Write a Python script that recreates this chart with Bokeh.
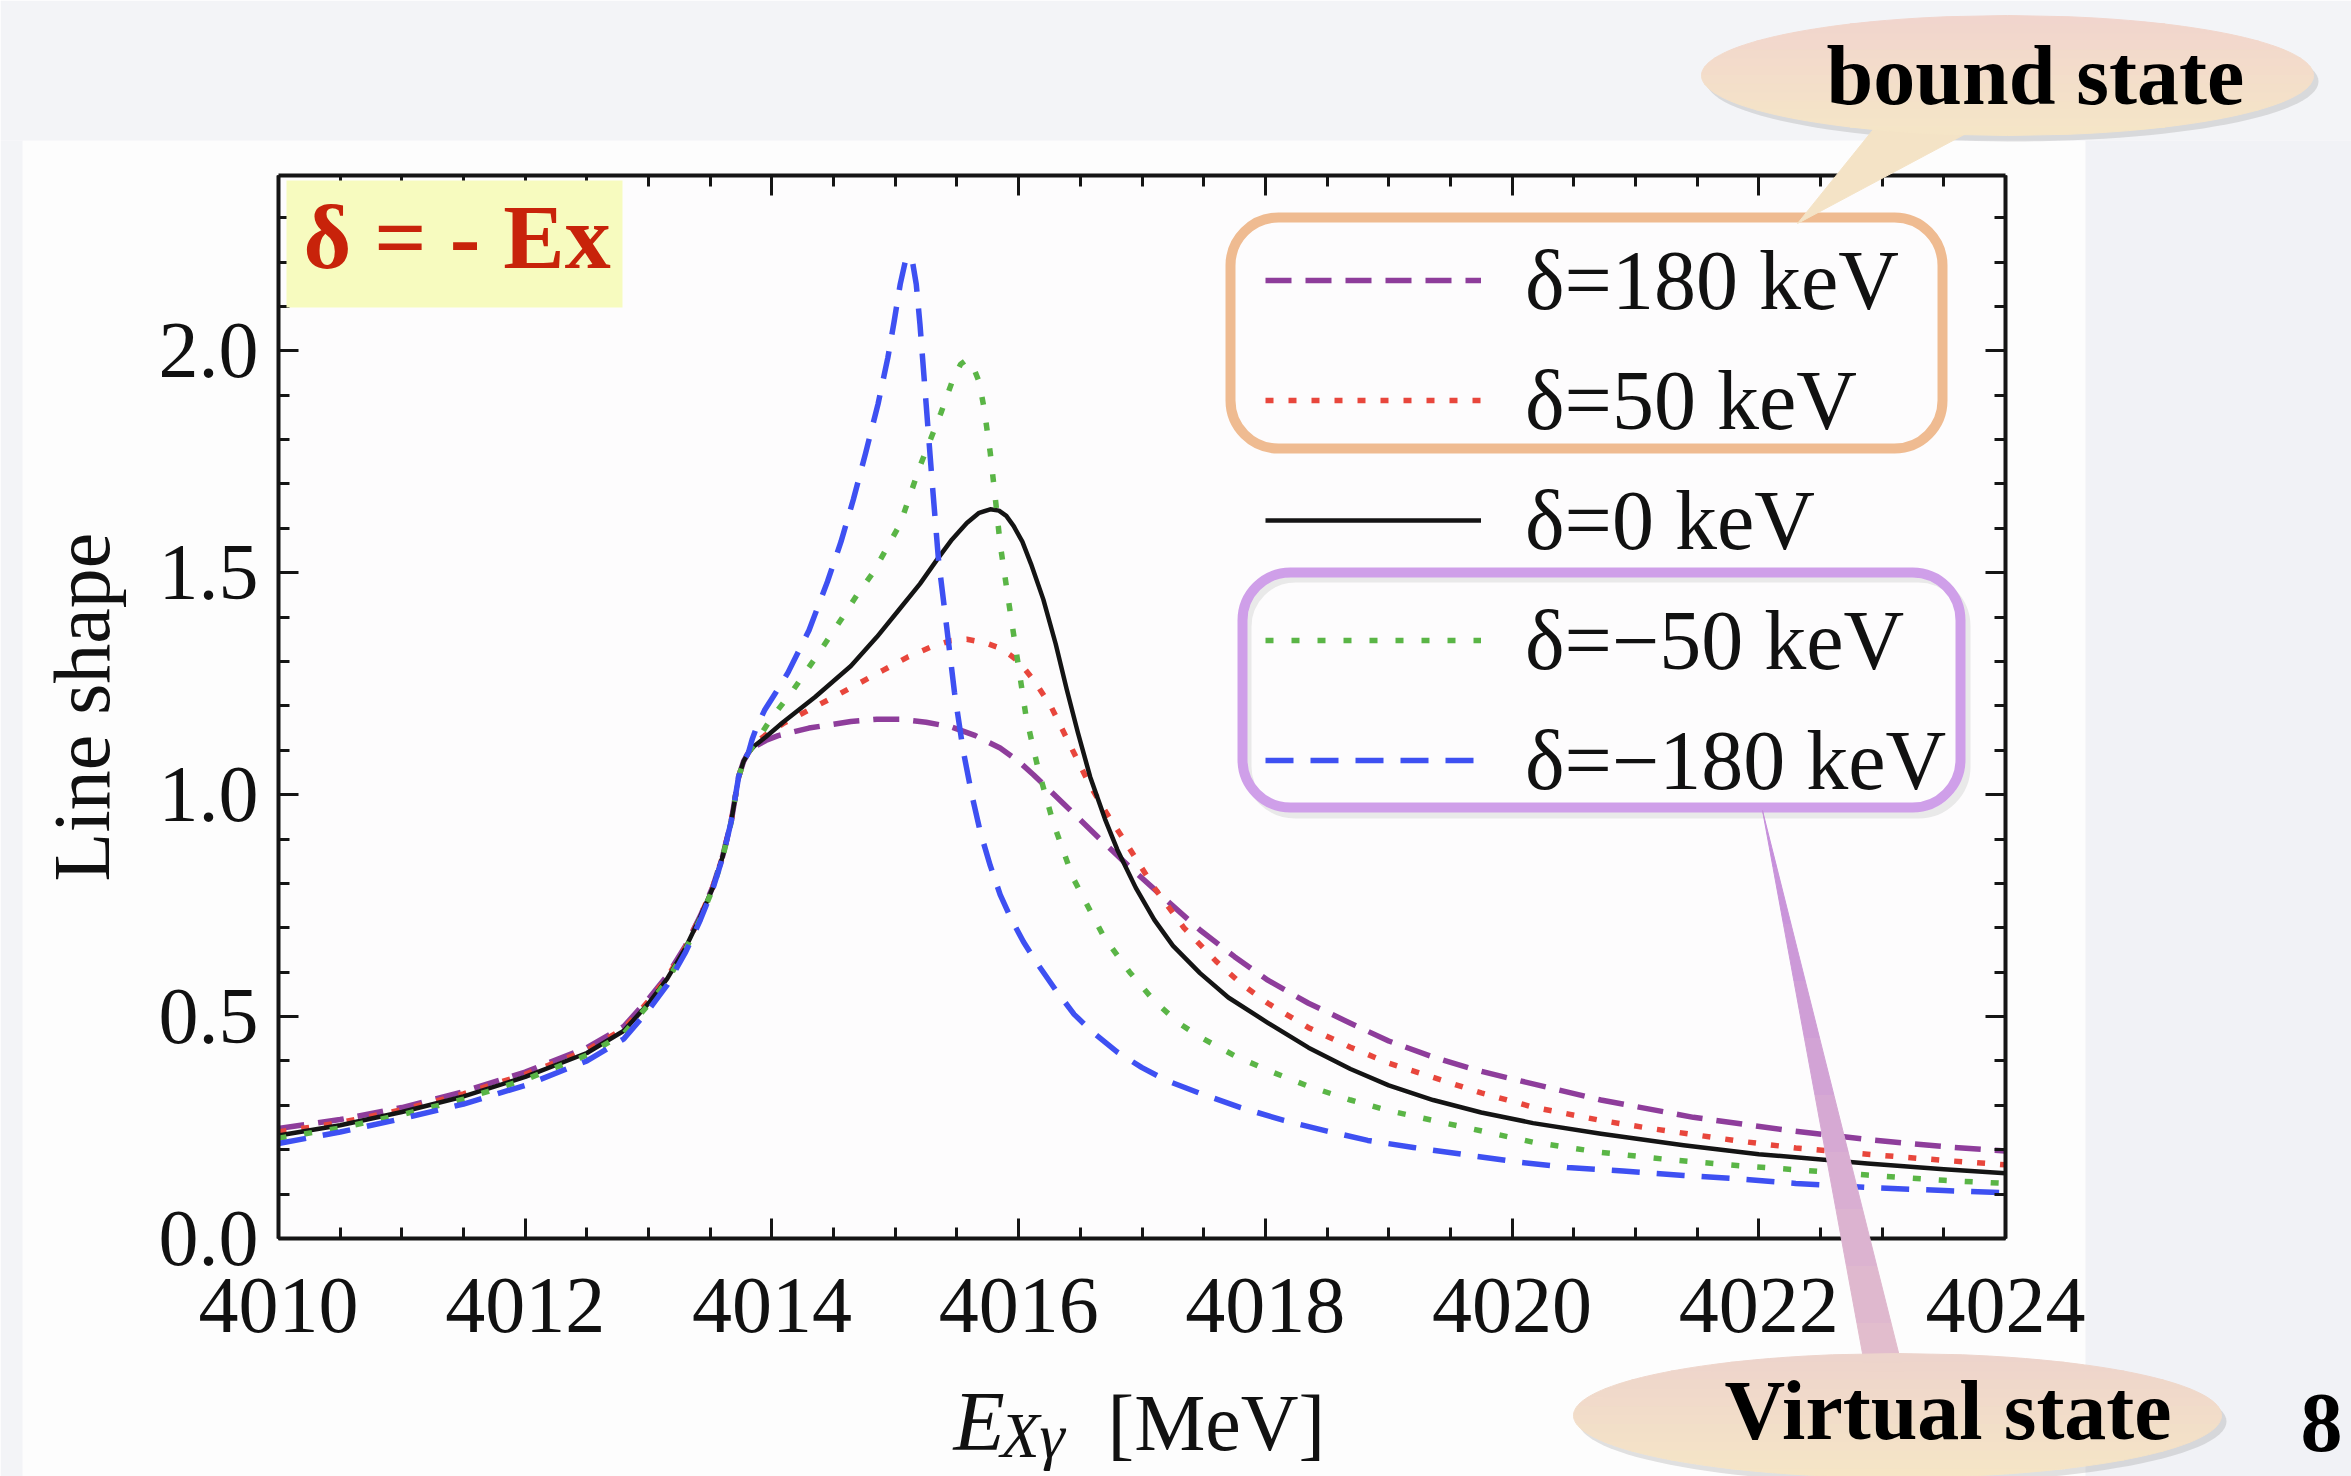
import numpy as np
from bokeh.plotting import figure
from bokeh.models import (Range1d, LinearAxis, SingleIntervalTicker, NumeralTickFormatter,
                          Legend, LegendItem, BoxAnnotation, PolyAnnotation, Label)
from bokeh.embed import file_html
from bokeh.resources import INLINE

# ---------------- data ----------------
pre_E = [4010.0, 4010.5, 4011.0, 4011.5, 4012.0, 4012.5, 4012.8, 4013.0, 4013.15, 4013.3,
         4013.42, 4013.52, 4013.6, 4013.67, 4013.73, 4013.77, 4013.81]

E_p180 = pre_E + [4013.86, 4013.95, 4014.05, 4014.3, 4014.64, 4014.85, 4015.04, 4015.25,
                  4015.45, 4015.65, 4015.85, 4016.0, 4016.12, 4016.4, 4016.64, 4016.9,
                  4017.2, 4017.47, 4017.75, 4018.02, 4018.35, 4018.69, 4019.0, 4019.36,
                  4019.7, 4020.04, 4020.72, 4021.47, 4022.2, 4022.88, 4023.5, 4024.0]
L_p180 = [0.248, 0.268, 0.295, 0.331, 0.375, 0.430, 0.478, 0.540, 0.592, 0.660, 0.727,
          0.792, 0.861, 0.940, 1.040, 1.075, 1.095,
          1.108, 1.122, 1.133, 1.150, 1.165, 1.170, 1.170, 1.163, 1.153, 1.133, 1.105,
          1.075, 1.045, 0.970, 0.905, 0.837, 0.762, 0.695, 0.635, 0.582, 0.530, 0.485,
          0.445, 0.409, 0.380, 0.357, 0.312, 0.273, 0.245, 0.223, 0.207, 0.197]

E_p50 = pre_E + [4013.86, 4013.95, 4014.09, 4014.5, 4014.9, 4015.1, 4015.31, 4015.45,
                 4015.58, 4015.72, 4015.85, 4015.93, 4016.0, 4016.13, 4016.26, 4016.42,
                 4016.58, 4016.72, 4016.85, 4017.1, 4017.34, 4017.6, 4017.8, 4018.02,
                 4018.35, 4018.69, 4019.0, 4019.36, 4019.75, 4020.17, 4020.72, 4021.12,
                 4021.8, 4022.3, 4022.88, 4023.5, 4024.0]
L_p50 = [0.240, 0.261, 0.290, 0.326, 0.370, 0.424, 0.473, 0.535, 0.588, 0.657, 0.726,
         0.791, 0.860, 0.940, 1.040, 1.075, 1.095,
         1.115, 1.135, 1.160, 1.220, 1.280, 1.310, 1.335, 1.347, 1.350, 1.343, 1.330,
         1.315, 1.300, 1.255, 1.200, 1.110, 1.020, 0.955, 0.900, 0.790, 0.700, 0.625,
         0.575, 0.530, 0.475, 0.431, 0.395, 0.363, 0.328, 0.296, 0.266, 0.248, 0.221,
         0.204, 0.190, 0.176, 0.166]

E_0 = pre_E + [4013.86, 4013.95, 4014.09, 4014.35, 4014.64, 4014.85, 4015.04, 4015.2,
               4015.34, 4015.46, 4015.58, 4015.68, 4015.77, 4015.84, 4015.9, 4015.96,
               4016.03, 4016.1, 4016.2, 4016.3, 4016.39, 4016.48, 4016.58, 4016.7, 4016.8,
               4016.95, 4017.1, 4017.25, 4017.47, 4017.7, 4018.02, 4018.35, 4018.69,
               4019.0, 4019.36, 4019.75, 4020.17, 4020.72, 4021.39, 4022.0, 4022.88,
               4023.5, 4024.0]
L_0 = [0.232, 0.255, 0.285, 0.320, 0.364, 0.418, 0.468, 0.530, 0.585, 0.655, 0.725,
       0.790, 0.860, 0.940, 1.040, 1.075, 1.095,
       1.110, 1.130, 1.163, 1.220, 1.290, 1.355, 1.420, 1.475, 1.530, 1.575, 1.612,
       1.635, 1.643, 1.640, 1.628, 1.605, 1.570, 1.520, 1.440, 1.340, 1.237, 1.140,
       1.040, 0.945, 0.876, 0.790, 0.718, 0.660, 0.598, 0.543, 0.486, 0.430, 0.382,
       0.345, 0.312, 0.284, 0.260, 0.236, 0.210, 0.190, 0.169, 0.156, 0.147]

E_m50 = pre_E + [4013.86, 4013.92, 4013.99, 4014.17, 4014.37, 4014.55, 4014.69, 4014.82,
                 4014.95, 4015.04, 4015.2, 4015.37, 4015.46, 4015.53, 4015.58, 4015.63,
                 4015.68, 4015.72, 4015.77, 4015.81, 4015.85, 4015.92, 4015.99, 4016.06,
                 4016.16, 4016.28, 4016.44, 4016.69, 4016.9, 4017.1, 4017.3, 4017.47,
                 4017.75, 4018.02, 4018.35, 4018.69, 4019.0, 4019.36, 4020.17, 4020.72,
                 4021.26, 4021.8, 4022.88, 4023.5, 4024.0]
L_m50 = [0.226, 0.249, 0.279, 0.314, 0.358, 0.413, 0.462, 0.527, 0.581, 0.651, 0.721,
         0.787, 0.858, 0.939, 1.040, 1.075, 1.095,
         1.115, 1.140, 1.170, 1.235, 1.315, 1.390, 1.450, 1.500, 1.565, 1.610, 1.740,
         1.860, 1.930, 1.970, 1.980, 1.965, 1.930, 1.870, 1.770, 1.670, 1.565, 1.433,
         1.305, 1.176, 1.056, 0.937, 0.813, 0.680, 0.600, 0.535, 0.485, 0.454, 0.412,
         0.379, 0.343, 0.312, 0.288, 0.266, 0.217, 0.194, 0.178, 0.165, 0.143, 0.131,
         0.124]

E_m180 = pre_E + [4013.84, 4013.88, 4013.94, 4014.02, 4014.13, 4014.3, 4014.45, 4014.56,
                  4014.66, 4014.76, 4014.86, 4014.94, 4014.99, 4015.04, 4015.08, 4015.11,
                  4015.14, 4015.17, 4015.2, 4015.25, 4015.3, 4015.35, 4015.42, 4015.48,
                  4015.55, 4015.62, 4015.69, 4015.77, 4015.85, 4015.94, 4016.04, 4016.15,
                  4016.3, 4016.45, 4016.6, 4016.8, 4017.0, 4017.2, 4017.47, 4017.8,
                  4018.15, 4018.5, 4018.83, 4019.2, 4019.64, 4020.05, 4020.45, 4020.9,
                  4021.39, 4021.8, 4022.3, 4022.88, 4023.5, 4024.0]
L_m180 = [0.214, 0.240, 0.270, 0.303, 0.345, 0.400, 0.450, 0.515, 0.571, 0.645, 0.718,
          0.787, 0.858, 0.940, 1.040, 1.075, 1.095,
          1.125, 1.155, 1.190, 1.225, 1.275, 1.370, 1.480, 1.570, 1.665, 1.770, 1.880,
          1.985, 2.065, 2.150, 2.200, 2.214, 2.200, 2.150, 2.060, 1.880, 1.700, 1.530,
          1.370, 1.230, 1.100, 1.000, 0.915, 0.840, 0.775, 0.720, 0.668, 0.620, 0.560,
          0.505, 0.465, 0.420, 0.385, 0.356, 0.327, 0.295, 0.266, 0.242, 0.221, 0.205,
          0.188, 0.172, 0.160, 0.152, 0.142, 0.135, 0.124, 0.115, 0.108, 0.103]

labels = ["δ=180 keV", "δ=50 keV", "δ=0 keV", "δ=−50 keV", "δ=−180 keV"]

# ---------------- layout geometry (pixels) ----------------
W, H = 2351, 1476
FL, FR, FT, FB = 278, 2005, 175, 1238
X0, X1 = 4010.0, 4024.0
Y0, Y1 = 0.0, 2.395
SERIF = "Liberation Serif"
BASE_K = 0.39   # empirical shift from label anchor to the alphabetic baseline

# ================= main chart =================
p = figure(width=W, height=H, x_range=Range1d(X0, X1), y_range=Range1d(Y0, Y1),
           output_backend="svg", toolbar_location=None,
           min_border_left=FL, min_border_right=W - FR,
           min_border_top=FT, min_border_bottom=H - FB,
           x_axis_type=None, y_axis_type=None)
p.border_fill_color = "#fdfdfd"
p.background_fill_color = "#fdfcfd"
p.outline_line_color = None


def style_axis(ax, show_labels):
    ax.axis_line_width = 4
    ax.axis_line_color = "#151515"
    ax.major_tick_in = 20
    ax.major_tick_out = 0
    ax.minor_tick_in = 11
    ax.minor_tick_out = 0
    ax.major_tick_line_width = 3
    ax.minor_tick_line_width = 3
    ax.major_tick_line_color = "#151515"
    ax.minor_tick_line_color = "#151515"
    if show_labels:
        ax.major_label_text_font = SERIF
        ax.major_label_text_font_size = "80px"
        ax.major_label_text_color = "#111111"
    else:
        ax.major_label_text_font_size = "0px"
        ax.major_label_text_alpha = 0


xb = LinearAxis(ticker=SingleIntervalTicker(interval=2, num_minor_ticks=4),
                formatter=NumeralTickFormatter(format="0"))
style_axis(xb, True)
xb.major_label_standoff = 40
p.add_layout(xb, "below")

xt = LinearAxis(ticker=SingleIntervalTicker(interval=2, num_minor_ticks=4))
style_axis(xt, False)
p.add_layout(xt, "above")

yl = LinearAxis(ticker=SingleIntervalTicker(interval=0.5, num_minor_ticks=5),
                formatter=NumeralTickFormatter(format="0.0"),
                axis_label="Line shape")
style_axis(yl, True)
yl.major_label_standoff = 20
yl.axis_label_text_font = SERIF
yl.axis_label_text_font_size = "80px"
yl.axis_label_text_font_style = "normal"
yl.axis_label_text_color = "#111111"
yl.axis_label_standoff = 30
p.add_layout(yl, "left")

yr = LinearAxis(ticker=SingleIntervalTicker(interval=0.5, num_minor_ticks=5))
style_axis(yr, False)
p.add_layout(yr, "right")

kw = dict(line_width=5.5, line_join="round", line_cap="butt")
r1 = p.line(E_p180, L_p180, line_color="#8e3d9b", line_dash="26 14", **kw)
r2 = p.line(E_p50, L_p50, line_color="#e8463c", line_dash="8 15", **kw)
r3 = p.line(E_0, L_0, line_color="#141414", line_width=4.5, line_join="round")
r4 = p.line(E_m50, L_m50, line_color="#5ab546", line_dash="8 18", **kw)
r5 = p.line(E_m180, L_m180, line_color="#3e50f2", line_dash="28 17", **kw)

legend = Legend(items=[LegendItem(label=t, renderers=[r]) for t, r in
                       zip(labels, [r1, r2, r3, r4, r5])],
                location=(1265 - FL, FB - 810),
                background_fill_alpha=0, border_line_alpha=0,
                label_text_font=SERIF, label_text_font_size="84px",
                label_text_color="#111111",
                glyph_width=216, glyph_height=100, label_height=100,
                spacing=20, padding=0, margin=0, label_standoff=44)
p.add_layout(legend)

# ================= overlay (pixel space, y downward), stacked on top =================
o = figure(width=W, height=H, x_range=Range1d(0, W), y_range=Range1d(H, 0),
           output_backend="svg", toolbar_location=None, title=None,
           min_border=0, min_border_left=0, min_border_right=0,
           min_border_top=0, min_border_bottom=0,
           x_axis_type=None, y_axis_type=None)
o.border_fill_alpha = 0
o.background_fill_alpha = 0
o.outline_line_color = None
o.styles = {"position": "fixed", "left": "0px", "top": "0px", "z-index": "5"}


def box(l, r, t, b, fill=None, line=None, lw=0, radius=0, alpha=1.0):
    o.add_layout(BoxAnnotation(left=l, right=r, top=t, bottom=b,
                               fill_color=fill if fill else "#ffffff",
                               fill_alpha=alpha if fill else 0.0,
                               line_color=line if line else "#000000",
                               line_alpha=alpha if line else 0.0,
                               line_width=lw, border_radius=radius))


def poly(xs, ys, col, alpha=1.0):
    o.add_layout(PolyAnnotation(xs=list(xs), ys=list(ys), fill_color=col, fill_alpha=alpha,
                                line_color=col, line_alpha=alpha, line_width=1))


def text(px, base_py, s, size, style="normal", color="#111111"):
    o.add_layout(Label(x=px, y=base_py - BASE_K * size, text=s, text_font=SERIF,
                       text_font_size="%dpx" % size, text_font_style=style,
                       text_color=color, text_baseline="alphabetic", text_align="left"))


def hexmix(c1, c2, t):
    a = [int(c1[i:i + 2], 16) for i in (1, 3, 5)]
    b = [int(c2[i:i + 2], 16) for i in (1, 3, 5)]
    return "#%02x%02x%02x" % tuple(int(round(a[k] + (b[k] - a[k]) * t)) for k in range(3))


def ellipse_bands(cx, cy, rx, ry, c_top, c_bot, n=14):
    edges = np.linspace(cy - ry, cy + ry, n + 1)
    for i in range(n):
        ys = np.linspace(edges[i], edges[i + 1], 8)
        hw = rx * np.sqrt(np.clip(1 - ((ys - cy) / ry) ** 2, 0, 1))
        poly(list(cx + hw) + list((cx - hw)[::-1]), list(ys) + list(ys[::-1]),
             hexmix(c_top, c_bot, (i + 0.5) / n))


def ellipse_shadow(cx, cy, rx, ry):
    t = np.linspace(0, 2 * np.pi, 120)
    o.add_layout(PolyAnnotation(xs=list(cx + 5 + rx * np.cos(t)), ys=list(cy + 6 + ry * np.sin(t)),
                                fill_color="#707070", fill_alpha=0.2, line_color=None))


# slide background outside the white panel
box(0, W, 0, 140, fill="#f3f4f7")
box(0, 22, 140, H, fill="#f3f4f7")
box(2085, W, 140, H, fill="#f1f2f6")

# group boxes around the legend entries
box(1230, 1942, 217, 448, line="#efbb91", lw=10, radius=48)
box(1247, 1966, 578, 814, line="#b0b0b0", lw=8, radius=48, alpha=0.25)
box(1242, 1960, 572, 807, line="#cf9fe9", lw=10, radius=48)

# yellow tag
box(286, 622, 180, 307, fill="#f7fbbf")
text(303, 272, "δ = - Ex", 92, "bold", "#c8230a")

# bound state callout
ellipse_shadow(2007, 75, 306, 60)
poly([1880, 1990, 1797], [120, 120, 223], "#f4e3c6")
ellipse_bands(2007, 75, 306, 60, "#f1d4cd", "#f5e6c7")
text(1826, 108, "bound state", 84, "bold", "#000000")

# virtual state callout (gradient wedge)
tip_x, tip_y = 1762, 810
bl, br, by = 1867, 1905, 1380
nb = 10
for i in range(nb):
    t0, t1 = i / nb, (i + 1) / nb
    y0, y1 = tip_y + (by - tip_y) * t0, tip_y + (by - tip_y) * t1
    l0, l1 = tip_x + (bl - tip_x) * t0, tip_x + (bl - tip_x) * t1
    q0, q1 = tip_x + (br - tip_x) * t0, tip_x + (br - tip_x) * t1
    poly([l0, q0, q1, l1], [y0, y0, y1, y1], hexmix("#c48cdc", "#e4c0cc", (i + 0.5) / nb))
ellipse_shadow(1897, 1415, 324, 62)
ellipse_bands(1897, 1415, 324, 62, "#edd3cc", "#f6e6c6")
text(1724, 1443, "Virtual state", 84, "bold", "#000000")

# x-axis title  E_{Xγ} [MeV]
text(953, 1454, "E", 84, "italic")
text(1000, 1460, "Xγ", 64, "italic")
text(1107, 1454, "[MeV]", 80)

# slide page number
text(2300, 1455, "8", 84, "bold", "#000000")

open("out.html", "w").write(file_html([p, o], INLINE))
